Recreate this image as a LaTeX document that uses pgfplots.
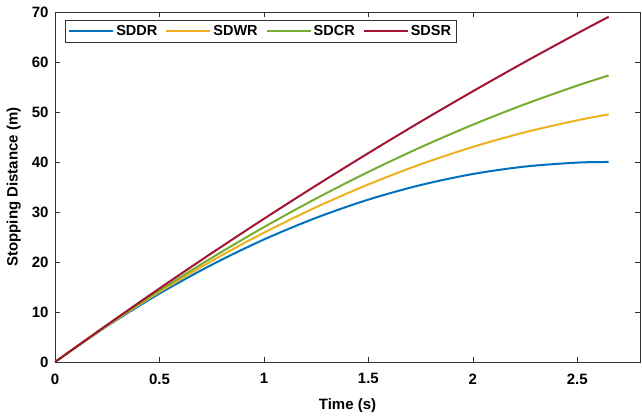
\documentclass[border=0pt]{standalone}
\usepackage{pgfplots}
\pgfplotsset{compat=1.18}
\usepackage{fontspec}
\setmainfont{Liberation Sans}
\definecolor{mblue}{rgb}{0,0.447,0.741}
\definecolor{myellow}{rgb}{0.929,0.694,0.125}
\definecolor{mgreen}{rgb}{0.466,0.674,0.188}
\definecolor{mred}{rgb}{0.635,0.078,0.184}
\begin{document}
\begin{tikzpicture}
\begin{axis}[
  scale only axis,
  width=585pt, height=350pt,
  xmin=0, xmax=2.8, ymin=0, ymax=70,
  xtick={0,0.5,1,1.5,2,2.5},
  xticklabels={0,0.5,1,1.5,2,2.5},
  ytick={0,10,20,30,40,50,60,70},
  tick align=inside,
  major tick length=5pt,
  tick style={color=black!80, line width=0.7pt},
  axis line style={color=black!80, line width=0.7pt},
  /pgf/number format/assume math mode=true,
  ticklabel style={font=\fontsize{15}{17}\selectfont\bfseries},
  xticklabel style={yshift=-8pt},
  yticklabel style={xshift=-3pt},
  xlabel={\bfseries Time (s)},
  ylabel={\bfseries Stopping Distance (m)},
  label style={font=\fontsize{15}{17}\selectfont\bfseries},
  xlabel style={yshift=-8pt},
  ylabel style={yshift=4pt},
  legend columns=4,
  legend style={at={(0.017,0.977)}, anchor=north west, draw=black!80, line width=0.7pt,
    font=\fontsize{14.5}{16}\selectfont\bfseries, inner sep=3pt,
    /tikz/every even column/.append style={column sep=6pt}},
  legend image code/.code={\draw[#1, line width=2pt] (0pt,0pt) -- (44pt,0pt);},
  every axis plot/.append style={line width=2pt, smooth},
]
\addplot[mblue] coordinates {(0,0) (0.25,7.19) (0.5,13.68) (0.75,19.44) (1.0,24.5) (1.25,28.84) (1.5,32.48) (1.75,35.39) (2.0,37.6) (2.25,39.09) (2.5,39.88) (2.65,40.0)};
\addlegendentry{SDDR}
\addplot[myellow] coordinates {(0,0) (0.25,7.28) (0.5,14.01) (0.75,20.21) (1.0,25.86) (1.25,30.96) (1.5,35.52) (1.75,39.54) (2.0,43.02) (2.25,45.95) (2.5,48.34) (2.65,49.52)};
\addlegendentry{SDWR}
\addplot[mgreen] coordinates {(0,0) (0.25,7.35) (0.5,14.29) (0.75,20.83) (1.0,26.97) (1.25,32.70) (1.5,38.02) (1.75,42.94) (2.0,47.46) (2.25,51.57) (2.5,55.28) (2.65,57.31)};
\addlegendentry{SDCR}
\addplot[mred] coordinates {(0,0) (0.25,7.45) (0.5,14.71) (0.75,21.77) (1.0,28.64) (1.25,35.31) (1.5,41.78) (1.75,48.06) (2.0,54.14) (2.25,60.03) (2.5,65.72) (2.65,69.04)};
\addlegendentry{SDSR}
\end{axis}
\path (current axis.south west) ++(-55pt,-57pt);
\path (current axis.north east) ++(2pt,12pt);
\end{tikzpicture}
\end{document}
